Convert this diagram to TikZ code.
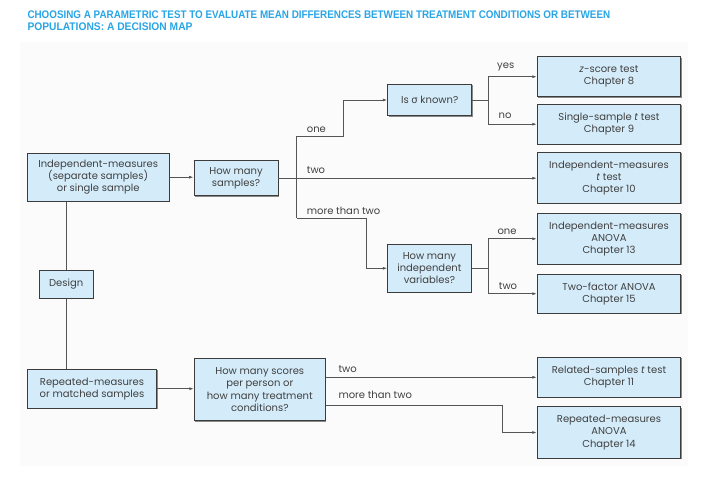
\documentclass[tikz,border=0pt]{standalone}
\usepackage{fontspec}
\setmainfont{Poppins}
\newfontfamily\grk{DejaVu Sans}
\newfontfamily\titlefont{Liberation Sans}
\usetikzlibrary{arrows.meta,shadows,calc}
\definecolor{boxfill}{RGB}{212,236,250}
\definecolor{boxline}{RGB}{60,60,60}
\definecolor{linec}{RGB}{85,85,85}
\definecolor{txt}{RGB}{64,64,64}
\definecolor{titlec}{RGB}{40,165,230}
\definecolor{bgc}{RGB}{251,251,251}
\begin{document}
\begin{tikzpicture}[x=1pt,y=-1pt,
  box/.style={draw=boxline, fill=boxfill, line width=0.9pt, align=center, inner sep=0pt,
    text=txt, font=\fontsize{10}{12.2}\selectfont,
    drop shadow={shadow xshift=1pt, shadow yshift=-1pt, fill=black, opacity=0.45}},
  conn/.style={draw=linec, line width=0.8pt},
  arr/.style={conn, -{Latex[length=4.5pt,width=3pt]}},
  lbl/.style={text=txt, font=\fontsize{10}{12.2}\selectfont, inner sep=0pt}
]
\useasboundingbox (0,0) rectangle (714,481);
\fill[white] (0,0) rectangle (714,481);
\fill[bgc] (20,42) rectangle (688,466);

% title
\node[anchor=base west, inner sep=0pt, text=titlec] (t1) at (27.3,19)
  {\resizebox{582.7pt}{7.7pt}{\titlefont\bfseries CHOOSING A PARAMETRIC TEST TO EVALUATE MEAN DIFFERENCES BETWEEN TREATMENT CONDITIONS OR BETWEEN}};
\node[anchor=base west, inner sep=0pt, text=titlec] (t2) at (27.3,31)
  {\resizebox{165pt}{7.7pt}{\titlefont\bfseries POPULATIONS: A DECISION MAP}};

% boxes
\node[box, minimum width=141.7pt, minimum height=47.7pt] (indep) at (98.2,177.2)
  {Independent-measures\\(separate samples)\\or single sample};
\node[box, minimum width=84pt, minimum height=35pt] (samples) at (236,178.2)
  {How many\\samples?};
\node[box, minimum width=54.3pt, minimum height=27.6pt] (design) at (66.2,284.5)
  {Design};
\node[box, minimum width=129.4pt, minimum height=39.3pt] (repeated) at (92,388.7)
  {Repeated-measures\\or matched samples};
\node[box, minimum width=131pt, minimum height=62.4pt] (scores) at (259.8,389.5)
  {How many scores\\per person or\\how many treatment\\conditions?};
\node[box, minimum width=84pt, minimum height=31.4pt] (sigma) at (429.7,100)
  {Is {\grk σ} known?};
\node[box, minimum width=83.3pt, minimum height=48pt] (indvars) at (429.4,268.3)
  {How many\\independent\\variables?};
\node[box, minimum width=143.4pt, minimum height=40pt] (zscore) at (609,76.7)
  {\textit{z}-score test\\Chapter 8};
\node[box, minimum width=143.4pt, minimum height=39.7pt] (single) at (609,124.2)
  {Single-sample \textit{t} test\\Chapter 9};
\node[box, minimum width=143.4pt, minimum height=51pt] (indt) at (609,177.8)
  {Independent-measures\\\textit{t} test\\Chapter 10};
\node[box, minimum width=143.4pt, minimum height=51pt] (indanova) at (609,238.8)
  {Independent-measures\\ANOVA\\Chapter 13};
\node[box, minimum width=143.4pt, minimum height=39.3pt] (twofactor) at (609,293.7)
  {Two-factor ANOVA\\Chapter 15};
\node[box, minimum width=143.4pt, minimum height=40pt] (related) at (609,377.3)
  {Related-samples \textit{t} test\\Chapter 11};
\node[box, minimum width=143.4pt, minimum height=51.6pt] (repanova) at (609,432.5)
  {Repeated-measures\\ANOVA\\Chapter 14};

% branch points
\coordinate (b1) at (296.7,136);
\coordinate (b2) at (296.7,218.3);
\coordinate (oneK) at (343.3,136);
\coordinate (mtK) at (366,218.3);
\coordinate (s1) at (488.5,100);
\coordinate (v1) at (488.3,268.3);
\coordinate (r1) at (502.3,405);

% connectors
\draw[conn] (design.north) -- (design.north |- indep.south);
\draw[conn] (design.south) -- (design.south |- repeated.north);
\draw[arr] (indep.east) -- (indep.east -| samples.west);
\draw[arr] (samples.east) -- (samples.east -| indt.west);
\draw[conn] (b1) -- (b2);
\draw[arr] (b1) -- (oneK) |- (sigma.west);
\draw[arr] (b2) -- (mtK) |- (indvars.west);
\draw[conn] (sigma.east) -- (s1);
\draw[arr] (s1) |- (zscore.west);
\draw[arr] (s1) |- (single.west);
\draw[conn] (indvars.east) -- (v1);
\draw[arr] (v1) |- (indanova.west);
\draw[arr] (v1) |- (twofactor.west);
\draw[arr] (repeated.east) -- (repeated.east -| scores.west);
\draw[arr] (scores.east |- related.west) -- (related.west);
\draw[arr] (scores.east |- r1) -- (r1) |- (repanova.west);

% labels
\node[lbl, anchor=west] (lone) at (306.7,130) {one};
\node[lbl, anchor=west] (ltwo) at (306.7,170) {two};
\node[lbl, anchor=west] (lmore) at (306.7,210.7) {more than two};
\node[lbl] (lyes) at (505.7,67.3) {yes};
\node[lbl] (lno) at (505,115.7) {no};
\node[lbl] (lone2) at (507,231.7) {one};
\node[lbl] (ltwo2) at (508,286) {two};
\node[lbl, anchor=west] (ltwo3) at (338.3,369.3) {two};
\node[lbl, anchor=west] (lmore3) at (338.3,395) {more than two};
\end{tikzpicture}
\end{document}
